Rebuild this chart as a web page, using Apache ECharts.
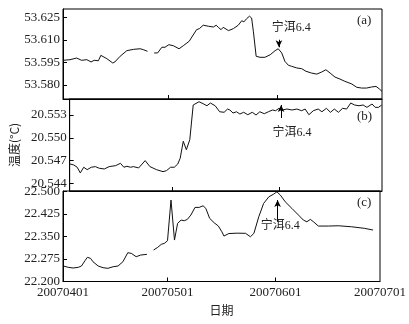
<html>
<head>
<meta charset="UTF-8">
<script src="https://cdn.jsdelivr.net/npm/echarts@6/dist/echarts.min.js"></script>
</head>
<body style="margin:0">
<div id="chart" style="width:409px;height:324px;"></div>
<script>
// x = days since 2007-04-01
var tickDays = [0, 30, 61, 91];
var tickLabels = ['20070401', '20070501', '20070601', '20070701'];

// (a)
var dayA = [0.1,2.0,3.9,5.3,6.8,8.0,8.9,10.1,10.8,12.5,14.2,14.8,16.3,18.2,20.1,22.0,22.9,24.1,25,26.0,27.0,28.2,29.1,30.2,31.5,33.1,34.3,36.0,38.1,38.9,40.0,41.5,42.9,43.7,44.3,45.1,45.7,47.2,48.6,50.0,51.0,51.6,52.4,53.2,53.8,54.3,55.1,56.2,57.6,59.1,60.5,61.4,62.4,63.3,64.3,65.2,66.7,68.1,69.3,70.9,72.4,73.8,75.0,76.2,77.6,79.0,80.4,82.4,83.8,85.2,86.6,88.0,89.3,90.2,91.0];
var valA = [53.5963,53.5967,53.5978,53.5963,53.5967,53.5952,53.5963,53.5960,53.5996,53.5974,53.5945,53.5952,53.5990,53.6027,53.6036,53.6040,53.6034,53.6023,'-',53.6012,53.6012,53.6050,53.6050,53.6067,53.6060,53.6040,53.6060,53.6090,53.6167,53.6174,53.6197,53.6190,53.6185,53.6197,53.6183,53.6167,53.6183,53.6161,53.6174,53.6197,53.6227,53.6219,53.6241,53.6257,53.6245,53.6157,53.5990,53.5983,53.5983,53.6000,53.6027,53.6040,53.6012,53.5956,53.5930,53.5923,53.5912,53.5907,53.5890,53.5878,53.5871,53.5885,53.5900,53.5878,53.5851,53.5838,53.5823,53.5805,53.5783,53.5778,53.5778,53.5785,53.5789,53.5773,53.5756];
var ticksA = [53.580, 53.595, 53.610, 53.625];

// (b)
var dayB = [0.1,1.2,2.2,3.1,4.1,5.1,6.3,7.5,8.6,10.1,11.5,13.4,14.8,15.8,16.7,17.7,18.6,20.1,22.0,23.4,25.3,27.2,28.2,29.4,30.5,31.5,32.2,33.1,34.0,35.0,36.0,37.7,38.9,40.0,41.0,42.4,43.7,45.0,46.0,46.7,47.6,48.6,49.6,50.7,51.9,53.2,54.3,55.4,56.7,57.9,59.1,60.0,61.0,61.9,63.3,64.8,66.2,67.6,68.6,69.7,71.0,72.4,73.5,74.8,76.0,77.1,78.3,79.5,80.7,81.9,83.0,84.3,85.5,86.6,88.1,89.0,90.0,90.9];
var valB = [20.54655,20.54642,20.54612,20.54537,20.54612,20.54580,20.54612,20.54620,20.54599,20.54589,20.54620,20.54633,20.54664,20.54612,20.54625,20.54612,20.54620,20.54603,20.54699,20.54620,20.54580,20.54554,20.54567,20.54612,20.54612,20.54655,20.54730,20.54954,20.54843,20.54975,20.55432,20.55475,20.55449,20.55422,20.55458,20.55422,20.55343,20.55336,20.55379,20.55366,20.55326,20.55343,20.55313,20.55336,20.55304,20.55336,20.55300,20.55343,20.55317,20.55343,20.55366,20.55357,20.55388,20.55366,20.55379,20.55366,20.55379,20.55357,20.55379,20.55304,20.55357,20.55379,20.55343,20.55388,20.55336,20.55379,20.55336,20.55388,20.55379,20.55458,20.55432,20.55422,20.55432,20.55401,20.55445,20.55401,20.55401,20.55432];
var ticksB = [20.544, 20.547, 20.550, 20.553];

// (c)
var dayC = [0.1,1.5,2.9,4.4,5.3,6.3,7.0,7.9,8.6,10.1,11.5,12.9,14.4,15.8,17.2,18.6,19.6,21.0,22.3,24.1,25,26.0,27.2,28.2,29.1,30.0,31.0,32.0,32.9,33.9,34.8,35.7,36.7,37.9,39.1,40.2,41.0,42.1,43.4,44.6,45.6,46.2,47.6,50.0,52.4,53.8,54.8,56.2,57.6,59.1,60.5,61.4,62.4,63.8,65.7,67.6,69.0,70.0,71.0,71.9,73.3,76.2,79.0,82.8,86.6,89.0];
var valC = [22.2517,22.2473,22.2450,22.2473,22.2517,22.2693,22.2807,22.2773,22.2660,22.2517,22.2460,22.2440,22.2493,22.2517,22.2660,22.2960,22.2940,22.2827,22.2883,22.2907,'-',22.3050,22.3140,22.3240,22.3273,22.3360,22.4717,22.3383,22.3940,22.4050,22.4027,22.4073,22.4217,22.4473,22.4473,22.4527,22.4440,22.4107,22.3960,22.3850,22.3660,22.3517,22.3600,22.3613,22.3607,22.3493,22.3607,22.4160,22.4607,22.4827,22.4917,22.4993,22.4883,22.4660,22.4440,22.4217,22.4050,22.3993,22.4073,22.3993,22.3850,22.3850,22.3860,22.3827,22.3773,22.3717];
var ticksC = [22.200, 22.275, 22.350, 22.425, 22.500];

// earthquake arrows [day, tail, head] and label [day, value]
var quakeName = '宁洱6.4';
var arrowA = [61.6, 53.6100, 53.6050], noteA = [65.1, 53.6179];
var arrowB = [61.6, 20.55261, 20.55432], noteB = [64.8, 20.55060];
var arrowC = [61.6, 22.3993, 22.4717], noteC = [62.4, 22.3850];

var serif = 'Liberation Serif, Noto Sans CJK SC';
var txt = '#222';

function pairs(days, vals) {
    return days.map(function (d, i) { return [d, vals[i]]; });
}

function xAx(idx, showLabel) {
    return {
        type: 'value', gridIndex: idx, min: 0, max: 91,
        axisLine: { lineStyle: { color: '#000' } },
        axisTick: { inside: true, length: 4, customValues: [30, 61], lineStyle: { color: '#000' } },
        axisLabel: {
            show: showLabel, customValues: tickDays, margin: 5,
            fontFamily: serif, fontSize: 13, color: txt,
            formatter: function (v) { return tickLabels[tickDays.indexOf(v)]; }
        },
        splitLine: { show: false }
    };
}

function yAx(idx, min, max, ticks) {
    return {
        type: 'value', gridIndex: idx, min: min, max: max,
        axisLine: { show: true, lineStyle: { color: '#000' } },
        axisTick: { show: true, inside: true, length: 4, customValues: ticks, lineStyle: { color: '#000' } },
        axisLabel: {
            customValues: ticks, margin: 3, fontFamily: serif, fontSize: 13, color: txt,
            formatter: function (v) { return v.toFixed(3); }
        },
        splitLine: { show: false }
    };
}

function arrow(a) {
    return {
        silent: true, symbol: ['none', 'arrow'], symbolSize: [5, 7],
        lineStyle: { color: '#000', type: 'solid', width: 1 },
        label: { show: false },
        data: [[{ coord: [a[0], a[1]] }, { coord: [a[0], a[2]] }]]
    };
}

function note(n) {
    return {
        silent: true, symbol: 'circle', symbolSize: 1,
        itemStyle: { color: 'rgba(0,0,0,0)' },
        label: { show: true, position: 'inside', formatter: quakeName, fontFamily: serif, fontSize: 12, color: txt },
        data: [{ coord: n }]
    };
}

function line(idx, days, vals, a, n) {
    return {
        type: 'line', xAxisIndex: idx, yAxisIndex: idx,
        data: pairs(days, vals), showSymbol: false, connectNulls: false,
        lineStyle: { color: '#111', width: 1 },
        markLine: arrow(a), markPoint: note(n)
    };
}

var myChart = echarts.init(document.getElementById('chart'));

var yB = yAx(1, 20.54299, 20.55511, ticksB);
yB.name = '温度(°C)';
yB.nameLocation = 'middle';
yB.nameGap = 47;
yB.nameRotate = 90;
yB.nameTextStyle = { fontFamily: 'Noto Sans CJK SC', fontSize: 12, color: txt };

var xC = xAx(2, true);
xC.name = '日期';
xC.nameLocation = 'middle';
xC.nameGap = 23;
xC.nameTextStyle = { fontFamily: 'Noto Sans CJK SC', fontSize: 12, color: txt };

var option = {
    animation: false,
    backgroundColor: '#fff',
    grid: [
        { left: 63, right: 27, top: 9, height: 90, show: true, borderColor: '#000', borderWidth: 1 },
        { left: 63, right: 27, top: 99, height: 92, show: true, borderColor: '#000', borderWidth: 1 },
        { left: 63, right: 27, top: 191, height: 90.5, show: true, borderColor: '#000', borderWidth: 1 }
    ],
    xAxis: [xAx(0, false), xAx(1, false), xC],
    yAxis: [yAx(0, 53.5705, 53.6305, ticksA), yB, yAx(2, 22.2, 22.502, ticksC)],
    graphic: [
        { type: 'text', left: 357, top: 14, style: { text: '(a)', font: '13px Liberation Serif', fill: txt } },
        { type: 'text', left: 357, top: 110, style: { text: '(b)', font: '13px Liberation Serif', fill: txt } },
        { type: 'text', left: 357, top: 196, style: { text: '(c)', font: '13px Liberation Serif', fill: txt } }
    ],
    series: [
        line(0, dayA, valA, arrowA, noteA),
        line(1, dayB, valB, arrowB, noteB),
        line(2, dayC, valC, arrowC, noteC)
    ]
};
myChart.setOption(option);
</script>
</body>
</html>
